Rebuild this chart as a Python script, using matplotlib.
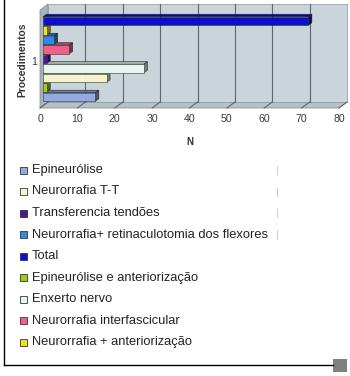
import matplotlib
matplotlib.use("Agg")
import matplotlib.pyplot as plt
import matplotlib.transforms as mtransforms
from matplotlib.patches import Polygon, Rectangle
from matplotlib.lines import Line2D
from matplotlib.colors import to_rgb
import numpy as np

plt.rcParams["font.family"] = ["Liberation Sans", "DejaVu Sans"]

# Series in drawing order (bottom bar first); Total is the sum of the others
procedures = [
    "Epineurólise",
    "Epineurólise e anteriorização",
    "Neurorrafia T-T",
    "Enxerto nervo",
    "Transferencia tendões",
    "Neurorrafia interfascicular",
    "Neurorrafia+ retinaculotomia dos flexores",
    "Neurorrafia + anteriorização",
    "Total",
]
counts = [14, 1, 17, 27, 1, 7, 3, 1, 71]
bar_colors = [
    "#94a8e4",
    "#9ccc1e",
    "#f6f4cc",
    "#e8f6f0",
    "#4a14a0",
    "#ee5f8a",
    "#2e8ae6",
    "#f0e21c",
    "#0a10cc",
]
legend_order = [
    "Epineurólise",
    "Neurorrafia T-T",
    "Transferencia tendões",
    "Neurorrafia+ retinaculotomia dos flexores",
    "Total",
    "Epineurólise e anteriorização",
    "Enxerto nervo",
    "Neurorrafia interfascicular",
    "Neurorrafia + anteriorização",
]
category_labels = ["1"]
x_ticks = [0, 10, 20, 30, 40, 50, 60, 70, 80]

W, H = 350, 376
fig = plt.figure(figsize=(W / 100, H / 100), dpi=100)
fig.patch.set_facecolor("white")

# front plane of the 3-D box, in figure pixels
left_px, right_px, top_px, bot_px = 40, 339, 10, 108
ax = fig.add_axes([left_px / W, 1 - bot_px / H,
                   (right_px - left_px) / W, (bot_px - top_px) / H])
ylo, yhi = -0.95, 9.37
ax.set_xlim(0, 80)
ax.set_ylim(ylo, yhi)
ax.patch.set_visible(False)
for s in ax.spines.values():
    s.set_visible(False)

# depth offsets in display pixels
WALL = (8, 6)
BAR_FRONT = (3, 2)
BAR_BACK = (6.5, 4.5)


def disp(x, y, off):
    p = ax.transData.transform((x, y))
    return (p[0] + off[0], p[1] + off[1])


ident = mtransforms.IdentityTransform()


def poly(pts, fc, ec="none", lw=0.0, z=1):
    p = Polygon(pts, closed=True, facecolor=fc, edgecolor=ec, linewidth=lw,
                transform=ident, clip_on=False, zorder=z)
    ax.add_patch(p)


front = (0, 0)
# floor
poly([disp(0, ylo, front), disp(80, ylo, front),
      disp(80, ylo, WALL), disp(0, ylo, WALL)], "#b6c0c6", "#7d868b", 0.5, 1)
# left wall
poly([disp(0, ylo, front), disp(0, yhi, front),
      disp(0, yhi, WALL), disp(0, ylo, WALL)], "#a9b4ba", "#7d868b", 0.5, 1)
# back wall
poly([disp(0, ylo, WALL), disp(80, ylo, WALL),
      disp(80, yhi, WALL), disp(0, yhi, WALL)], "#c9d4db", "#8a9398", 0.5, 1)

# wall gridlines and floor ticks
for xv in x_ticks:
    if 0 < xv < 80:
        a, b = disp(xv, ylo, WALL), disp(xv, yhi, WALL)
        ax.add_artist(Line2D([a[0], b[0]], [a[1], b[1]], color="#5f676c",
                             lw=0.8, transform=ident, clip_on=False, zorder=2))
    a, b = disp(xv, ylo, front), disp(xv, ylo, WALL)
    ax.add_artist(Line2D([a[0], b[0]], [a[1], b[1]], color="#5f676c",
                         lw=0.8, transform=ident, clip_on=False, zorder=2))

# 3-D bars
center = 4.0
n = len(counts)
positions = center + np.arange(n) - (n - 1) / 2
bh = 0.9
for i, (pos, val, col) in enumerate(zip(positions, counts, bar_colors)):
    y0, y1 = pos - bh / 2, pos + bh / 2
    rgb = np.array(to_rgb(col))
    top_c = rgb * 0.72
    side_c = rgb * 0.5
    z = 3 + i * 0.1
    # top face
    poly([disp(0, y1, BAR_FRONT), disp(val, y1, BAR_FRONT),
          disp(val, y1, BAR_BACK), disp(0, y1, BAR_BACK)],
         top_c, "#222222", 0.4, z)
    # side face
    poly([disp(val, y0, BAR_FRONT), disp(val, y1, BAR_FRONT),
          disp(val, y1, BAR_BACK), disp(val, y0, BAR_BACK)],
         side_c, "#222222", 0.4, z)
    # front face
    poly([disp(0, y0, BAR_FRONT), disp(val, y0, BAR_FRONT),
          disp(val, y1, BAR_FRONT), disp(0, y1, BAR_FRONT)],
         col, "#333333", 0.4, z + 0.05)

# axes text
ax.set_xticks(x_ticks)
ax.set_xticklabels([str(v) for v in x_ticks], fontsize=7.6, color="#3a3a3a")
ax.set_yticks([center])
ax.set_yticklabels(category_labels, fontsize=7.6, color="#3a3a3a")
ax.tick_params(axis="x", length=0, pad=4.5)
ax.tick_params(axis="y", length=0, pad=2)
ax.text(-18 / 299, 0.49, "Procedimentos", rotation=90, ha="center",
        va="center", fontsize=7.4, fontweight="bold", color="#333333",
        transform=ax.transAxes)
ax.text(0.5, -0.347, "N", ha="center", va="center", fontsize=7,
        fontweight="bold", color="#333333", transform=ax.transAxes)

# legend
color_of = dict(zip(procedures, bar_colors))
for i, name in enumerate(legend_order):
    yc = 170 + i * 21.5
    fig.add_artist(Rectangle((20 / W, 1 - (yc + 3.5) / H), 7 / W, 7 / H,
                             facecolor=color_of[name], edgecolor="#333333",
                             linewidth=0.6, transform=fig.transFigure))
    fig.text(32 / W, 1 - yc / H, name, fontsize=9.3, color="#222222",
             ha="left", va="center")
    if i < 4:
        fig.add_artist(Line2D([277 / W, 277 / W],
                              [1 - (yc - 4) / H, 1 - (yc + 4) / H],
                              color="#cfcfcf", lw=0.8,
                              transform=fig.transFigure))

# outer frame
fig.add_artist(Line2D([3.5 / W, 3.5 / W], [1, 1 - 365 / H], color="black",
                      lw=1.0, transform=fig.transFigure))
fig.add_artist(Line2D([3.5 / W, 333 / W], [1 - 365 / H, 1 - 365 / H],
                      color="black", lw=1.0, transform=fig.transFigure))
fig.add_artist(Rectangle((333 / W, 1 - 372 / H), 14 / W, 13 / H,
                         facecolor="#808080", edgecolor="none",
                         transform=fig.transFigure))

fig.savefig("out.png", dpi=100)
